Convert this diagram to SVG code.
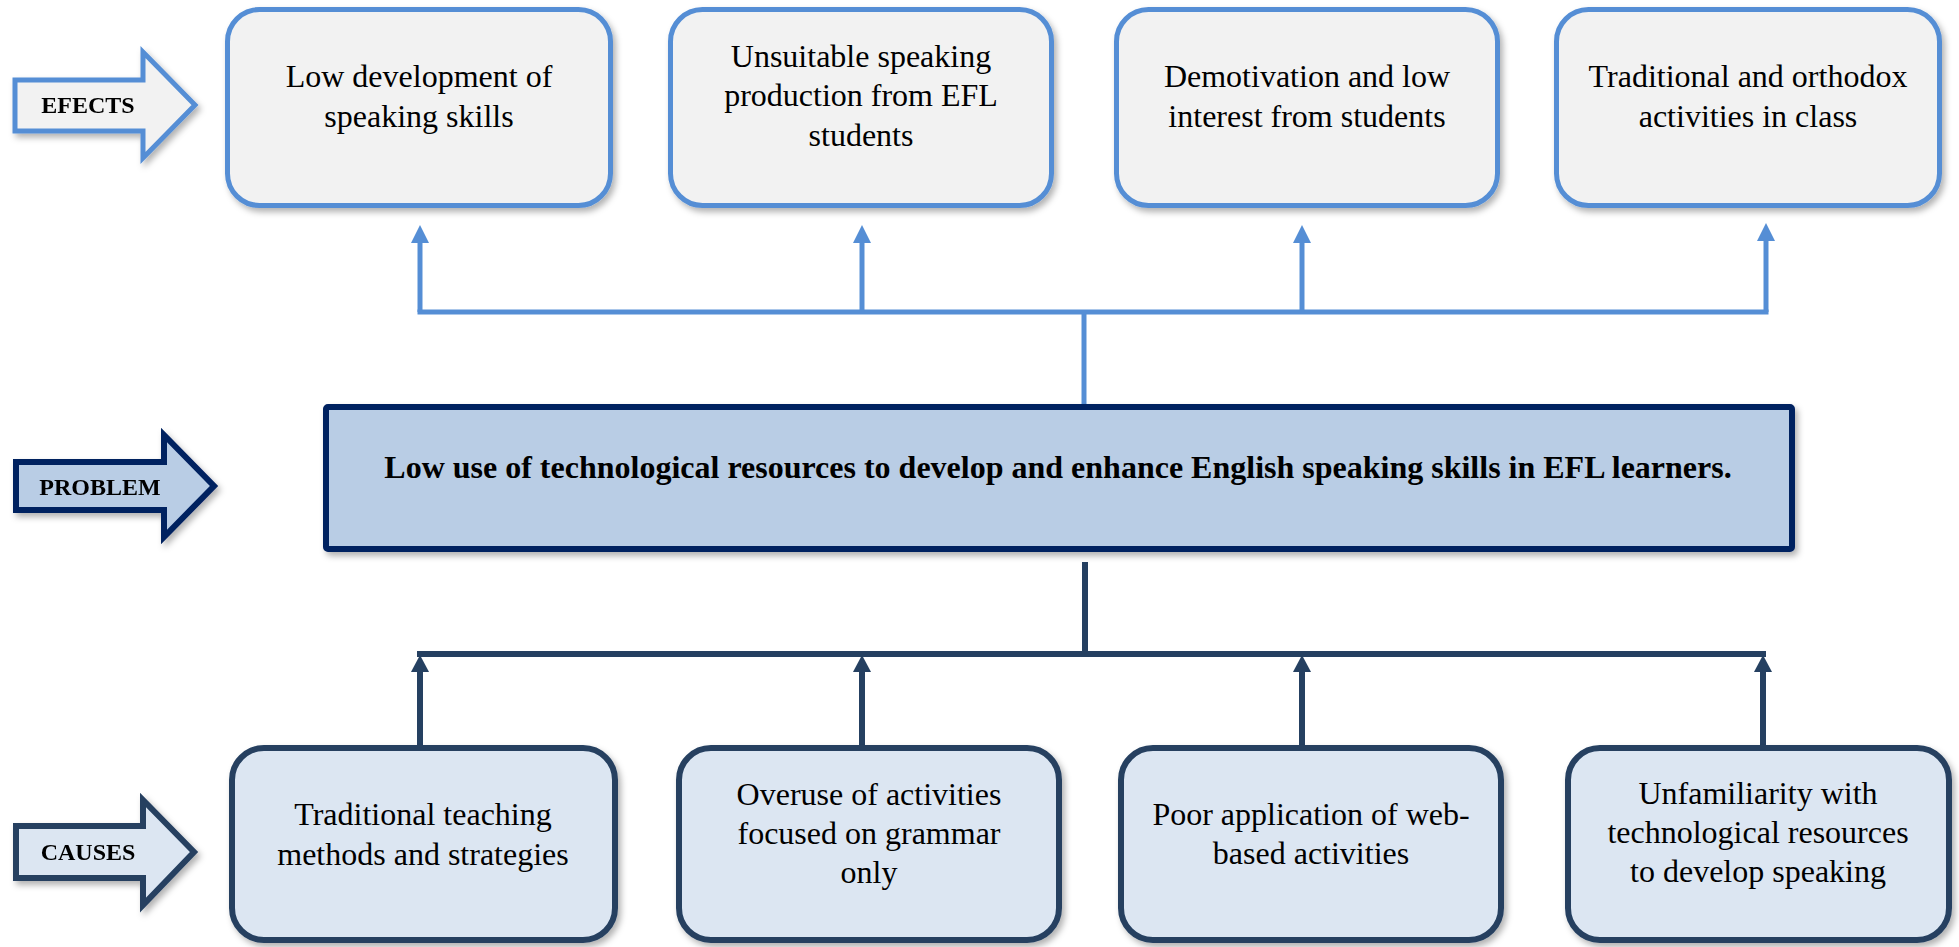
<svg xmlns="http://www.w3.org/2000/svg" width="1959" height="947" viewBox="0 0 1959 947">
<defs>
<style>
.t{font-family:"Liberation Serif","Times New Roman",serif;font-size:32px;fill:#000;text-anchor:middle}
.lbl{font-family:"Liberation Serif","Times New Roman",serif;font-size:24px;font-weight:bold;fill:#000;text-anchor:middle}
.eff{fill:#F2F2F2;stroke:#558ED5;stroke-width:5}
.cau{fill:#DCE6F2;stroke:#254061;stroke-width:6}
.prob{fill:#B9CDE5;stroke:#002060;stroke-width:6}
.ce{stroke:#558ED5;stroke-width:5;fill:none}
.cc{stroke:#254061;stroke-width:6;fill:none}
</style>
<filter id="sh" x="-10%" y="-10%" width="125%" height="130%">
<feDropShadow dx="3" dy="4" stdDeviation="3" flood-color="#000" flood-opacity="0.3"/>
</filter>
<marker id="ae" markerUnits="userSpaceOnUse" viewBox="0 0 18 18" markerWidth="18" markerHeight="18" refX="0" refY="9" orient="auto">
<path d="M0,0 L18,9 L0,18 z" fill="#558ED5"/>
</marker>
<marker id="ac" markerUnits="userSpaceOnUse" viewBox="0 0 17 18" markerWidth="17" markerHeight="18" refX="0" refY="9" orient="auto">
<path d="M0,0 L17,9 L0,18 z" fill="#254061"/>
</marker>
</defs>
<rect width="1959" height="947" fill="#fff"/>

<g id="connectors">
<path class="ce" d="M420,312 H1766" stroke-linecap="square"/>
<line class="ce" x1="420" y1="312" x2="420" y2="243" marker-end="url(#ae)"/>
<line class="ce" x1="862" y1="312" x2="862" y2="243" marker-end="url(#ae)"/>
<line class="ce" x1="1302" y1="312" x2="1302" y2="243" marker-end="url(#ae)"/>
<line class="ce" x1="1766" y1="312" x2="1766" y2="241" marker-end="url(#ae)"/>
<line class="ce" x1="1084" y1="312" x2="1084" y2="404"/>
<line class="cc" x1="1085" y1="562" x2="1085" y2="651"/>
<path class="cc" d="M420,654 H1763" stroke-linecap="square"/>
<line class="cc" x1="420" y1="746" x2="420" y2="672" marker-end="url(#ac)"/>
<line class="cc" x1="862" y1="746" x2="862" y2="672" marker-end="url(#ac)"/>
<line class="cc" x1="1302" y1="746" x2="1302" y2="672" marker-end="url(#ac)"/>
<line class="cc" x1="1763" y1="746" x2="1763" y2="672" marker-end="url(#ac)"/>
</g>

<g id="label-efects" filter="url(#sh)">
<polygon points="15,80 143,80 143,52 195,105 143,158 143,131 15,131" fill="#F2F2F2" stroke="#558ED5" stroke-width="5"/>
<text class="lbl" x="88" y="113">EFECTS</text>
</g>
<g id="label-problem" filter="url(#sh)">
<polygon points="16,462 164,462 164,435 214,486 164,537 164,510 16,510" fill="#B9CDE5" stroke="#002060" stroke-width="6"/>
<text class="lbl" x="100" y="495">PROBLEM</text>
</g>
<g id="label-causes" filter="url(#sh)">
<polygon points="16,826 143,826 143,800 194,852 143,905 143,878 16,878" fill="#DCE6F2" stroke="#254061" stroke-width="6"/>
<text class="lbl" x="88" y="860">CAUSES</text>
</g>

<g id="effect-1">
<rect class="eff" x="227.5" y="9.5" width="383" height="196" rx="32" filter="url(#sh)"/>
<text class="t" x="419" y="87">Low development of</text>
<text class="t" x="419" y="127">speaking skills</text>
</g>
<g id="effect-2">
<rect class="eff" x="670.5" y="9.5" width="381" height="196" rx="32" filter="url(#sh)"/>
<text class="t" x="861" y="67">Unsuitable speaking</text>
<text class="t" x="861" y="106">production from EFL</text>
<text class="t" x="861" y="146">students</text>
</g>
<g id="effect-3">
<rect class="eff" x="1116.5" y="9.5" width="381" height="196" rx="32" filter="url(#sh)"/>
<text class="t" x="1307" y="87">Demotivation and low</text>
<text class="t" x="1307" y="127">interest from students</text>
</g>
<g id="effect-4">
<rect class="eff" x="1556.5" y="9.5" width="383" height="196" rx="32" filter="url(#sh)"/>
<text class="t" x="1748" y="87">Traditional and orthodox</text>
<text class="t" x="1748" y="127">activities in class</text>
</g>

<g id="problem">
<rect class="prob" x="326" y="407" width="1466" height="142" rx="2" filter="url(#sh)"/>
<text class="t" x="1058" y="478" font-weight="bold">Low use of technological resources to develop and enhance English speaking skills in EFL learners.</text>
</g>

<g id="cause-1">
<rect class="cau" x="232" y="748" width="383" height="192" rx="32" filter="url(#sh)"/>
<text class="t" x="423" y="825">Traditional teaching</text>
<text class="t" x="423" y="865">methods and strategies</text>
</g>
<g id="cause-2">
<rect class="cau" x="679" y="748" width="380" height="192" rx="32" filter="url(#sh)"/>
<text class="t" x="869" y="805">Overuse of activities</text>
<text class="t" x="869" y="844">focused on grammar</text>
<text class="t" x="869" y="883">only</text>
</g>
<g id="cause-3">
<rect class="cau" x="1121" y="748" width="380" height="192" rx="32" filter="url(#sh)"/>
<text class="t" x="1311" y="825">Poor application of web-</text>
<text class="t" x="1311" y="864">based activities</text>
</g>
<g id="cause-4">
<rect class="cau" x="1568" y="748" width="381" height="192" rx="32" filter="url(#sh)"/>
<text class="t" x="1758" y="804">Unfamiliarity with</text>
<text class="t" x="1758" y="843">technological resources</text>
<text class="t" x="1758" y="882">to develop speaking</text>
</g>
</svg>
